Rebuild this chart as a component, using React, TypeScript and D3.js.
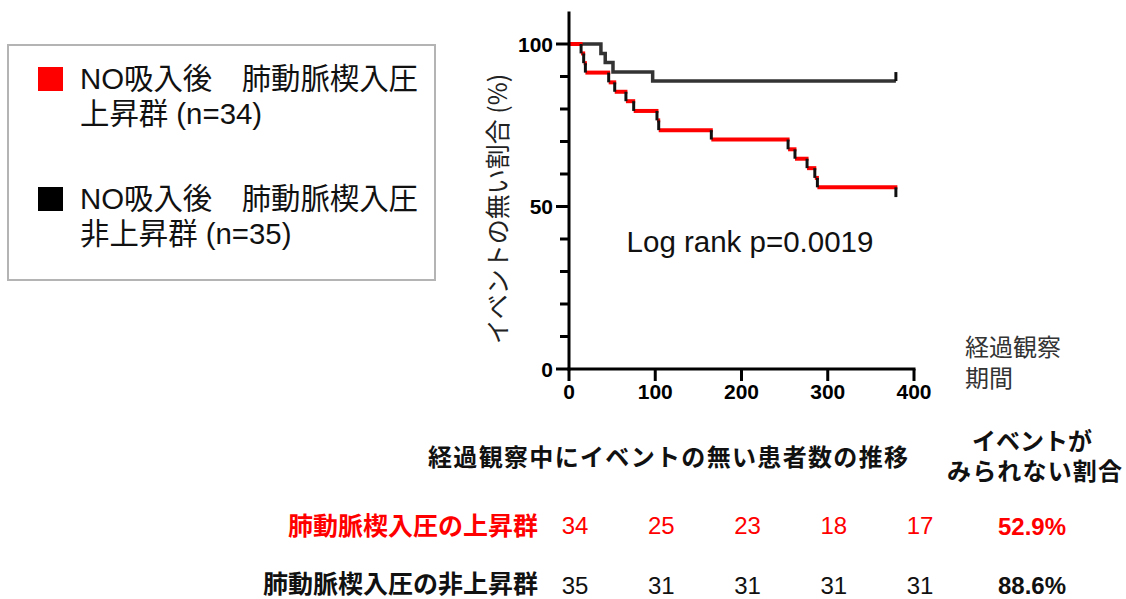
import React from "react";
import * as d3 from "d3";

// Kaplan-Meier steps (days, % event-free)
const redTimes = [0, 14, 17, 19, 46, 53, 66, 75, 102, 104, 165, 254, 262, 276, 285, 288, 379];
const redSurvival = [100, 97.1, 94.1, 91.2, 88.2, 85.3, 82.4, 79.4, 76.5, 73.5, 70.6, 67.6, 64.7, 61.8, 58.8, 55.9, 52.9];
const blackTimes = [0, 37, 42, 51, 97, 379];
const blackSurvival = [100, 97.1, 94.3, 91.4, 88.6, 88.6];

const xTicks = [0, 100, 200, 300, 400];
const yMajorTicks = [0, 50, 100];
const yMinorTicks = [10, 20, 30, 40, 60, 70, 80, 90];

// number-at-risk table
const riskTimes = [0, 100, 200, 300, 400];
const redAtRisk = [34, 25, 23, 18, 17];
const blackAtRisk = [35, 31, 31, 31, 31];
const redRate = "52.9%";
const blackRate = "88.6%";

const legendLabels = [
    ["NO吸入後　肺動脈楔入圧", "上昇群 (n=34)"],
    ["NO吸入後　肺動脈楔入圧", "非上昇群 (n=35)"],
];
const rowLabels = ["肺動脈楔入圧の上昇群", "肺動脈楔入圧の非上昇群"];

const RED = "#ff0000";
const DARK = "#333333";
const latin = "'Liberation Sans', Arial, 'Noto Sans CJK JP', sans-serif";
const cjk = "'Noto Sans CJK JP', 'Liberation Sans', sans-serif";

const x = d3.scaleLinear().domain([0, 400]).range([569, 914]);
const y = d3.scaleLinear().domain([0, 100]).range([369, 44]);

const stepLine = d3.line<[number, number]>()
    .x(d => x(d[0]))
    .y(d => y(d[1]))
    .curve(d3.curveStepAfter);

const zip = (t: number[], s: number[]) => t.map((v, i) => [v, s[i]] as [number, number]);

export default function App() {
    const blackPts = zip(blackTimes, blackSurvival);
    const redPts = zip(redTimes, redSurvival);

    const redH = redPts.slice(0, -1).map((p, i) => ({
        x1: x(p[0]), x2: x(redPts[i + 1][0]), y: y(p[1])
    }));
    const redV = redPts.slice(1).map((p, i) => ({
        x: x(p[0]), y1: y(redPts[i][1]), y2: y(p[1])
    }));
    const blackEnd = blackPts[blackPts.length - 1];

    return (
        <svg width={1126} height={599} style={{ position: "absolute", left: 0, top: 0, background: "#fff" }}>
            {/* legend */}
            <rect x={8} y={45} width={427} height={235} fill="none" stroke="#b4b4b4" strokeWidth={2} />
            {legendLabels.map((lines, i) => (
                <g key={i} transform={`translate(0,${i * 120})`}>
                    <rect x={38} y={67} width={25} height={24} fill={i === 0 ? RED : "#000"} />
                    <text x={80} y={89} fontFamily={latin} fontSize={29.4} fill="#111">{lines[0]}</text>
                    <text x={80} y={124} fontFamily={latin} fontSize={29.4} fill="#111">{lines[1]}</text>
                </g>
            ))}

            {/* y axis label */}
            <text transform="translate(507,209) rotate(-90)" textAnchor="middle" fontFamily={cjk} fontSize={25} fill="#222">
                イベントの無い割合 (%)
            </text>

            {/* curves */}
            <path d={stepLine(blackPts) ?? ""} fill="none" stroke={DARK} strokeWidth={3.5} />
            <line x1={x(blackEnd[0])} x2={x(blackEnd[0])} y1={y(blackEnd[1])} y2={y(blackEnd[1]) - 9} stroke="#111" strokeWidth={3} />
            {redH.map((s, i) => (
                <line key={"h" + i} x1={s.x1} x2={s.x2 + 1.5} y1={s.y} y2={s.y} stroke={RED} strokeWidth={4} />
            ))}
            {redV.map((s, i) => (
                <line key={"v" + i} x1={s.x} x2={s.x} y1={s.y1} y2={s.y2} stroke="#111" strokeWidth={3} />
            ))}

            {/* axes */}
            <g stroke="#000" strokeWidth={3}>
                <line x1={x(0)} x2={x(0)} y1={y(110)} y2={y(0) + 1.5} />
                <line x1={x(0) - 1.5} x2={x(400) + 1.5} y1={y(0)} y2={y(0)} />
                {yMajorTicks.map(t => <line key={"ym" + t} x1={x(0) - 13} x2={x(0)} y1={y(t)} y2={y(t)} />)}
                {yMinorTicks.map(t => <line key={"yn" + t} x1={x(0) - 9} x2={x(0)} y1={y(t)} y2={y(t)} />)}
                {xTicks.map(t => <line key={"xt" + t} x1={x(t)} x2={x(t)} y1={y(0)} y2={y(0) + 12} />)}
            </g>
            {yMajorTicks.map(t => (
                <text key={"yl" + t} x={x(0) - 16} y={y(t) + 7.5} textAnchor="end" fontFamily={latin} fontWeight="bold" fontSize={21}>{t}</text>
            ))}
            {xTicks.map(t => (
                <text key={"xl" + t} x={x(t)} y={399} textAnchor="middle" fontFamily={latin} fontWeight="bold" fontSize={21}>{t}</text>
            ))}
            <text x={965} y={356} fontFamily={cjk} fontSize={24} fill="#333">経過観察</text>
            <text x={965} y={387} fontFamily={cjk} fontSize={24} fill="#333">期間</text>

            <text x={750} y={252} textAnchor="middle" fontFamily={latin} fontSize={29.5} fill="#111">Log rank p=0.0019</text>

            {/* at-risk table */}
            <text x={428} y={466} fontFamily={cjk} fontWeight="bold" fontSize={24} fill="#111" textLength={480} lengthAdjust="spacing">経過観察中にイベントの無い患者数の推移</text>
            <text x={1032} y={450} textAnchor="middle" fontFamily={cjk} fontWeight="bold" fontSize={24} fill="#111">イベントが</text>
            <text x={947} y={480} fontFamily={cjk} fontWeight="bold" fontSize={24} fill="#111" textLength={175} lengthAdjust="spacing">みられない割合</text>

            <text x={538} y={535} textAnchor="end" fontFamily={cjk} fontWeight="bold" fontSize={25} fill={RED}>{rowLabels[0]}</text>
            <text x={538} y={593} textAnchor="end" fontFamily={cjk} fontWeight="bold" fontSize={25} fill="#111">{rowLabels[1]}</text>
            {riskTimes.map((t, i) => (
                <g key={"r" + t}>
                    <text x={x(t) + 6} y={534} textAnchor="middle" fontFamily={latin} fontSize={24} fill={RED}>{redAtRisk[i]}</text>
                    <text x={x(t) + 6} y={594} textAnchor="middle" fontFamily={latin} fontSize={24} fill="#111">{blackAtRisk[i]}</text>
                </g>
            ))}
            <text x={1032} y={535} textAnchor="middle" fontFamily={latin} fontWeight="bold" fontSize={24} fill={RED}>{redRate}</text>
            <text x={1032} y={594} textAnchor="middle" fontFamily={latin} fontWeight="bold" fontSize={24} fill="#111">{blackRate}</text>
        </svg>
    );
}
